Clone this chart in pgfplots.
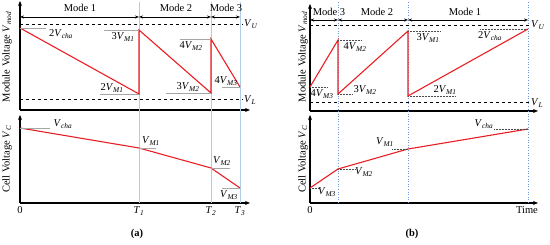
\documentclass[border=0pt]{standalone}
\usepackage{fontspec}
\setmainfont{Liberation Serif}
\usepackage{pgfplots}
\pgfplotsset{compat=1.18}
\usetikzlibrary{arrows.meta}
\definecolor{tline}{RGB}{235,30,35}
\definecolor{bluea}{RGB}{175,205,235}
\definecolor{blueb}{RGB}{110,155,215}
\newcommand\V[1]{\textit{V}\textsubscript{\textit{#1}}}
\newcommand\T[1]{\textit{T}\textsubscript{\textit{#1}}}

\pgfplotsset{
  sk/.style={x=1pt, y=1pt, anchor=south west, axis lines=left,
    enlargelimits=false, clip=false,
    axis line style={line width=1.1pt, -{Stealth[length=5pt,width=4pt]}},
    xtick=\empty, ytick=\empty, major tick length=0pt,
    tick label style={font=\fontsize{10.5}{12}\selectfont}},
  red/.style={tline, line width=1.1pt, no markers},
  lvl/.style={black, dashed, line width=0.9pt, no markers},
}
\tikzset{
  ga/.style={gray!70, line width=0.5pt},
  gb/.style={black!70, densely dotted, line width=0.5pt},
  lab/.style={font=\fontsize{10.5}{12}\selectfont, inner sep=0pt},
  mode/.style={black, line width=0.6pt, {Stealth[length=4pt]}-{Stealth[length=4pt]}},
}

\begin{document}
\begin{tikzpicture}
\useasboundingbox (0,0) rectangle (550pt,245pt);

% ---------- (a) top: module voltage ----------
\begin{axis}[sk, at={(20pt,135pt)}, xmin=20, xmax=250, ymin=135, ymax=244]
  \draw[bluea, line width=0.8pt] (139,243) -- (139,135) (211,243) -- (211,135) (240,243) -- (240,135);
  \addplot[lvl] coordinates {(20,221) (243,221)};
  \addplot[lvl] coordinates {(20,146) (243,146)};
  \addplot[red] coordinates {(20,217) (139,151) (139,215) (211,152) (211,206) (240,158)};
  \draw[mode] (20,228) -- (139,228);
  \draw[mode] (139,228) -- (211,228);
  \draw[mode] (211,228) -- (240,228);
  \node[lab] at (80,237) {Mode 1};
  \node[lab] at (176,237) {Mode 2};
  \node[lab] at (226,237) {Mode 3};
  \node[lab, anchor=west] at (244,221) {\V{U}};
  \node[lab, anchor=west] at (244,145) {\V{L}};
  \draw[ga] (20,217) -- (46,217); \node[lab] at (61,211) {2\V{cha}};
  \draw[ga] (104,215) -- (139,215); \node[lab] at (123,208) {3\V{M1}};
  \draw[ga] (100,151) -- (139,151); \node[lab] at (112,157) {2\V{M1}};
  \draw[ga] (166,152) -- (211,152); \node[lab] at (188,158) {3\V{M2}};
  \draw[ga] (180,206) -- (211,206); \node[lab] at (191,199) {4\V{M2}};
  \draw[ga] (222,158) -- (240,158); \node[lab] at (226,164) {4\V{M3}};
  \node[lab, rotate=90] at (7,188) {Module Voltage \V{mod}};
\end{axis}

% ---------- (a) bottom: cell voltage ----------
\begin{axis}[sk, at={(20pt,42pt)}, xmin=20, xmax=250, ymin=42, ymax=130,
  xtick={20,139,211,240}, xticklabels={0,\T{1},\T{2},\T{3}}]
  \draw[bluea, line width=0.8pt] (139,135) -- (139,42) (211,135) -- (211,42) (240,135) -- (240,42);
  \addplot[red] coordinates {(20,117) (139,97) (211,77) (240,57)};
  \draw[ga] (20,117) -- (50,117); \node[lab] at (63,121) {\V{cha}};
  \draw[ga] (139,97) -- (156,97); \node[lab] at (151,104) {\V{M1}};
  \draw[ga] (211,77) -- (230,77); \node[lab] at (222,84) {\V{M2}};
  \draw[ga] (222,57) -- (240,57); \node[lab] at (229,50) {\V{M3}};
  \node[lab, rotate=90] at (7,86) {Cell Voltage \V{C}};
  \node[font=\fontsize{10.5}{12}\selectfont\bfseries] at (137,11) {(a)};
\end{axis}

% ---------- (b) top: module voltage ----------
\begin{axis}[sk, at={(310pt,134pt)}, xmin=310, xmax=538, ymin=134, ymax=241]
  \draw[blueb, dotted, line width=0.6pt] (338,243) -- (338,134) (408,243) -- (408,134) (528,243) -- (528,134);
  \addplot[lvl] coordinates {(310,220) (530,220)};
  \addplot[lvl] coordinates {(310,143) (530,143)};
  \addplot[red] coordinates {(310,158) (338,205) (338,151) (408,214) (408,149) (528,216)};
  \draw[mode] (310,225) -- (338,225);
  \draw[mode] (338,225) -- (408,225);
  \draw[mode] (408,225) -- (528,225);
  \node[lab] at (329,233) {Mode 3};
  \node[lab] at (377,233) {Mode 2};
  \node[lab] at (465,233) {Mode 1};
  \node[lab, anchor=west] at (531,220) {\V{U}};
  \node[lab, anchor=west] at (531,142) {\V{L}};
  \draw[gb] (310,158) -- (328,158); \node[lab] at (322,151) {4\V{M3}};
  \draw[gb] (338,205) -- (362,205); \node[lab] at (355,198) {4\V{M2}};
  \draw[gb] (338,151) -- (353,151); \node[lab] at (365,155) {3\V{M2}};
  \draw[gb] (408,214) -- (440,214); \node[lab] at (428,207) {3\V{M1}};
  \draw[gb] (408,149) -- (455,149); \node[lab] at (445,155) {2\V{M1}};
  \draw[gb] (480,216) -- (528,216); \node[lab] at (490,209) {2\V{cha}};
  \node[lab, rotate=90] at (303,188) {Module Voltage \V{mod}};
\end{axis}

% ---------- (b) bottom: cell voltage ----------
\begin{axis}[sk, at={(310pt,42pt)}, xmin=310, xmax=538, ymin=42, ymax=130,
  xtick={310,527}, xticklabels={0,Time}]
  \draw[blueb, dotted, line width=0.6pt] (338,134) -- (338,42) (408,134) -- (408,42) (528,134) -- (528,42);
  \addplot[red] coordinates {(310,57) (338,76) (408,96) (528,116)};
  \draw[gb] (494,116) -- (528,116); \node[lab] at (484,121) {\V{cha}};
  \draw[gb] (392,96) -- (408,96); \node[lab] at (385,103) {\V{M1}};
  \draw[gb] (338,76) -- (355,76); \node[lab] at (364,73) {\V{M2}};
  \draw[gb] (310,57) -- (320,57); \node[lab] at (327,53) {\V{M3}};
  \node[lab, rotate=90] at (303,86) {Cell Voltage \V{C}};
  \node[font=\fontsize{10.5}{12}\selectfont\bfseries] at (412,11) {(b)};
\end{axis}
\end{tikzpicture}
\end{document}
